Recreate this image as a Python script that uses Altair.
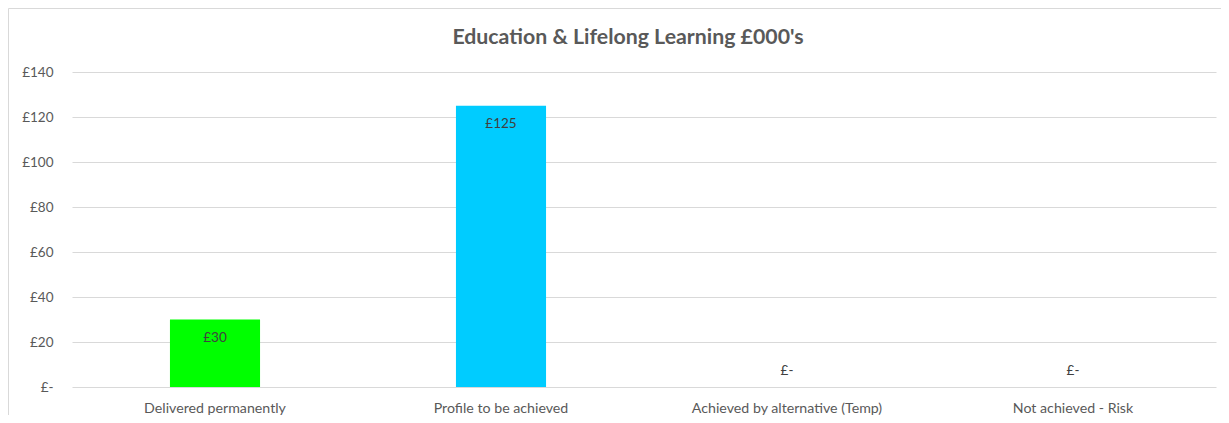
import altair as alt
import pandas as pd

categories = ["Delivered permanently", "Profile to be achieved", "Achieved by alternative (Temp)", "Not achieved - Risk"]
values = [30, 125, 0, 0]
colors = ["#00FF00", "#00CCFF", "#FFC000", "#FF0000"]
title_text = "Education & Lifelong Learning £000's"

df = pd.DataFrame({"category": categories, "value": values, "color": colors})
df["label"] = ["£-" if v == 0 else "£" + str(v) for v in values]

W, H = 1144, 315
font = "Lato"

base = alt.Chart(df)

x_enc = alt.X("category:N", sort=categories, title=None,
              scale=alt.Scale(paddingInner=0.685, paddingOuter=0.3425),
              axis=alt.Axis(labelAngle=0, labelFont=font, labelFontSize=14.2, labelColor="#595959",
                            domain=False, ticks=False, grid=False, labelPadding=14, labelLimit=400))
y_enc = alt.Y("value:Q", title=None, scale=alt.Scale(domain=[0, 140], nice=False),
              axis=alt.Axis(values=[0, 20, 40, 60, 80, 100, 120, 140], labelFont=font, labelFontSize=13.5,
                            labelColor="#595959", domain=False, ticks=False, labelPadding=19,
                            gridColor="#d9d9d9", gridWidth=1,
                            labelExpr="datum.value == 0 ? '£-' : '£' + datum.value"))

bars = base.mark_bar().encode(
    x=x_enc, y=y_enc,
    color=alt.Color("color:N", scale=None),
)

labels_pos = base.transform_filter("datum.value > 0").mark_text(
    baseline="middle", dy=18, font=font, fontSize=13.5, color="#404040"
).encode(x=alt.X("category:N", sort=categories), y="value:Q", text="label:N")

labels_zero = base.transform_filter("datum.value == 0").mark_text(
    baseline="middle", dy=-16, font=font, fontSize=13.5, color="#404040"
).encode(x=alt.X("category:N", sort=categories), y="value:Q", text="label:N")

one = pd.DataFrame({"a": [0]})
border_left = alt.Chart(one).mark_rule(color="#d9d9d9", strokeWidth=1).encode(
    x=alt.value(-63.5), y=alt.value(-63.5), y2=alt.value(H + 40))
border_top = alt.Chart(one).mark_rule(color="#d9d9d9", strokeWidth=1).encode(
    x=alt.value(-63.5), x2=alt.value(W + 5), y=alt.value(-63.5))

title = alt.Chart(pd.DataFrame({"t": [title_text]})).mark_text(
    font=font, fontSize=21.3, fontWeight="bold", color="#595959", baseline="middle", align="center"
).encode(x=alt.value(556), y=alt.value(-34), text="t:N")

chart = alt.layer(border_left, border_top, bars, labels_pos, labels_zero, title).properties(
    width=W, height=H,
    autosize=alt.AutoSizeParams(type="none"),
    padding={"left": 64, "top": 64, "right": 5, "bottom": 28},
).configure(background="white").configure_view(strokeWidth=0, stroke="transparent")

chart.save("out.html", embed_options={"renderer": "svg", "actions": False})
